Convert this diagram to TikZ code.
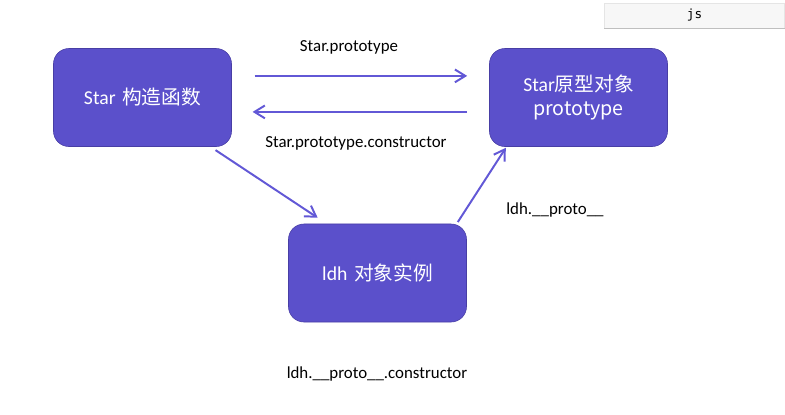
\documentclass[tikz,border=0pt]{standalone}
\usepackage{fontspec}
\setmainfont{Carlito}
\setmonofont{DejaVu Sans Mono}
\newfontfamily\cjk{Noto Sans CJK SC}
\usepackage{tikz}
\usetikzlibrary{arrows.meta, positioning}

\definecolor{boxfill}{RGB}{91,80,203}
\definecolor{boxline}{RGB}{72,62,165}
\definecolor{arrcol}{RGB}{98,88,214}

\begin{document}
\begin{tikzpicture}[
    x=0.025cm, y=-0.025cm,
    objbox/.style={
        rectangle, draw=boxline, fill=boxfill, rounded corners=11pt,
        minimum width=4.45cm, minimum height=2.45cm,
        text width=4.2cm, align=center, text=white, font=\fontsize{14}{17}\selectfont
    },
    arr/.style={-{Straight Barb[length=2.6mm, width=3.2mm]}, arrcol, line width=1.4pt},
    lbl/.style={font=\fontsize{12}{14}\selectfont, text=black}
]
\useasboundingbox (0,0) rectangle (785,415);

% Nodes
\node[objbox] (star)  at (142.5,97.5) {Star \cjk{构造函数}};
\node[objbox] (proto) at (578.5,97.5) {Star\cjk{原型对象}\\prototype};
\node[objbox] (ldh)   at (377.5,273)  {ldh \cjk{对象实例}};

% js tag
\node[rectangle, fill=black!3, draw=black!10, minimum width=4.5cm, minimum height=0.62cm,
      font=\ttfamily\fontsize{9}{11}\selectfont] (jstag) at (694.5,15.5) {js};
\draw[black!25, line width=0.8pt] (jstag.south west) -- (jstag.south east);

% Arrows
\draw[arr, shorten <=0.57cm, shorten >=0.55cm] ([yshift=0.54cm]star.east) -- ([yshift=0.54cm]proto.west);
\draw[arr, shorten <=0.55cm, shorten >=0.52cm] ([yshift=-0.36cm]proto.west) -- ([yshift=-0.36cm]star.east);
\draw[arr, shorten <=0.15cm, shorten >=0.27cm] ([xshift=1.70cm]star.south) -- ([xshift=-1.27cm]ldh.north);
\draw[arr, shorten <=0.05cm, shorten >=0.03cm] ([xshift=1.98cm]ldh.north) -- ([xshift=-1.80cm]proto.south);

% Labels
\node[lbl] (l1) at (349,47)  {Star.prototype};
\node[lbl] (l2) at (356,143) {Star.prototype.constructor};
\node[lbl] (l3) at (555,210) {ldh.\_\_proto\_\_};
\node[lbl] (l4) at (377,374) {ldh.\_\_proto\_\_.constructor};

\end{tikzpicture}
\end{document}
